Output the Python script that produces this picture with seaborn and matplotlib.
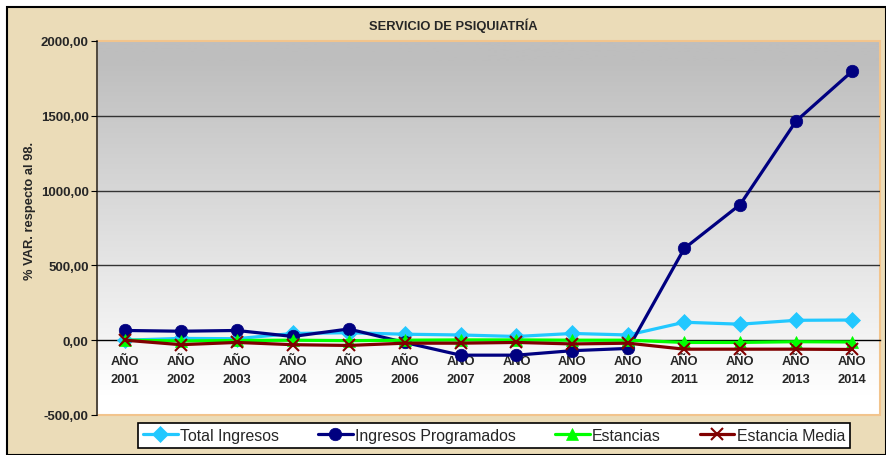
import numpy as np
import pandas as pd
import matplotlib
matplotlib.use('Agg')
import matplotlib.pyplot as plt
import seaborn as sns
from matplotlib.patches import Rectangle
from matplotlib.ticker import FuncFormatter, MultipleLocator

sns.set_style("white")
plt.rcParams['font.family'] = ['Liberation Sans', 'DejaVu Sans']

# datos
years = ['2001', '2002', '2003', '2004', '2005', '2006', '2007',
         '2008', '2009', '2010', '2011', '2012', '2013', '2014']
total_ingresos = [0, 12, 10, 45, 50, 40, 35, 25, 45, 35, 120, 107, 133, 135]
ingresos_programados = [65, 60, 65, 25, 75, -15, -100, -100, -70, -55, 613, 907, 1465, 1797]
estancias = [0, -5, -2, 0, -3, 0, 2, 2, 0, 0, -15, -15, -10, -12]
estancia_media = [0, -30, -15, -30, -35, -20, -20, -15, -25, -20, -60, -60, -60, -62]

series = [
    ('Total Ingresos', total_ingresos, '#22C8FF', 'D', 8),
    ('Ingresos Programados', ingresos_programados, '#000080', 'o', 9),
    ('Estancias', estancias, '#00FF00', '^', 9),
    ('Estancia Media', estancia_media, '#800000', 'x', 8),
]

W, H = 886, 456
fig = plt.figure(figsize=(W / 100, H / 100), dpi=100)
fig.patch.set_facecolor('white')
fig.patches.append(Rectangle((7 / W, 0), 1 - 7 / W, 1 - 8 / H, transform=fig.transFigure,
                             facecolor='#EBDCB8', edgecolor='black', linewidth=1.5, zorder=-1))

ax = fig.add_axes([97 / W, 1 - 416 / H, (880 - 97) / W, (416 - 42) / H])
ax.set_facecolor('none')

# degradado gris -> blanco del area de trazado
grad = np.linspace(0, 1, 256).reshape(-1, 1)
grad = np.clip((grad - 0.05) / 0.9, 0, 1)
ax.imshow(grad, extent=[0, 1, 0, 1], transform=ax.transAxes, aspect='auto',
          cmap=matplotlib.colors.LinearSegmentedColormap.from_list('g', ['#FFFFFF', '#BEBEBE']),
          origin='lower', zorder=0)
ax.add_patch(Rectangle((0, 0), 1, 1, transform=ax.transAxes, fill=False,
                       edgecolor='#F2C48C', linewidth=1.5, zorder=1, clip_on=False))

for yv in [500, 1000, 1500]:
    ax.axhline(yv, color='#333333', linewidth=1, zorder=1)

x = np.arange(len(years))
for name, vals, color, marker, ms in series:
    sns.lineplot(x=x, y=vals, ax=ax, color=color, marker=marker, markersize=ms,
                 linewidth=2.3, label=name, markeredgecolor=color,
                 markeredgewidth=1.5 if marker == 'x' else 0.5, zorder=3)

ax.set_xlim(-0.5, len(years) - 0.5)
ax.set_ylim(-500, 2000)
ax.yaxis.set_major_locator(MultipleLocator(500))
ax.yaxis.set_major_formatter(FuncFormatter(lambda v, p: f'{v:.2f}'.replace('.', ',')))
ax.set_xticks(x)
ax.set_xticklabels([f'AÑO\n{y}' for y in years])
ax.set_xticks(np.arange(-0.5, len(years)), minor=True)

for s in ['top', 'right']:
    ax.spines[s].set_visible(False)
ax.spines['bottom'].set_position(('data', 0))
ax.spines['bottom'].set_color('black')
ax.spines['bottom'].set_linewidth(1)
ax.spines['left'].set_color('#333333')
ax.spines['left'].set_linewidth(1.2)
ax.set_axisbelow(False)

ax.tick_params(axis='x', which='major', length=0, pad=10.5, labelsize=9.3)
ax.tick_params(axis='x', which='minor', length=3, direction='in', color='black')
ax.tick_params(axis='y', length=4, direction='out', left=True, labelsize=9.5, color='black', pad=2)
for lab in ax.get_xticklabels():
    lab.set_fontweight('bold')
    lab.set_linespacing(1.65)
for lab in ax.get_yticklabels():
    lab.set_fontweight('bold')

ax.set_xlabel('')
ax.set_ylabel('')
fig.text(30 / W, 1 - 211 / H, '% VAR. respecto al 98.', rotation=90, ha='center', va='center',
         fontsize=9.3, fontweight='bold')
fig.text(453 / W, 1 - 26 / H, 'SERVICIO DE PSIQUIATRÍA', ha='center', va='center',
         fontsize=9.3, fontweight='bold')

ax.legend_.remove()
handles, labels = ax.get_legend_handles_labels()
leg = fig.legend(handles, labels, loc='center', ncol=4, bbox_to_anchor=(494 / W, 1 - 436.5 / H),
                 fontsize=11.4, frameon=True, fancybox=False, shadow=False, handlelength=2.2,
                 handletextpad=0.15, columnspacing=2.45, borderpad=0.3)
leg.get_frame().set_edgecolor('black')
leg.get_frame().set_linewidth(1.2)
leg.get_frame().set_facecolor('white')
leg.get_frame().set_alpha(1)

fig.savefig('out.png', dpi=100)
